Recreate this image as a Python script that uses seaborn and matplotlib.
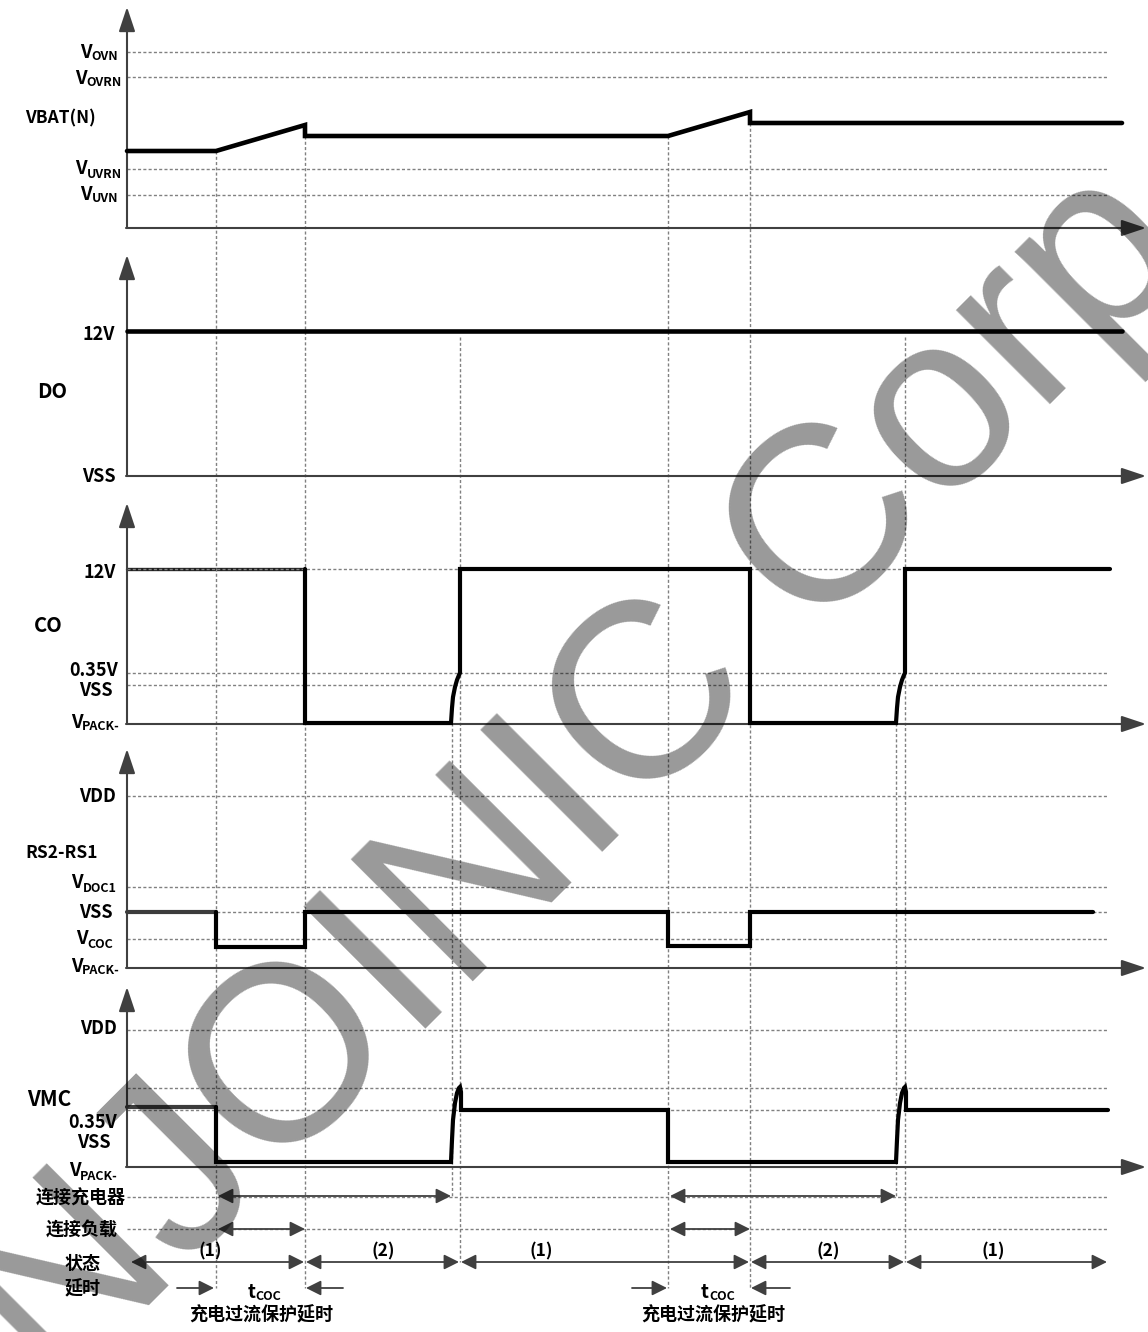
import matplotlib
matplotlib.use('Agg')
import matplotlib.pyplot as plt
import seaborn as sns

# ---------------- data (time axis = horizontal position, levels = vertical) --------------
AXIS_X0 = 127
# VBAT(N)
vbat_t = [127, 216, 305, 305, 668, 750, 750, 1122]
vbat_v = [151, 151, 125, 136, 136, 112, 123, 123]
# DO
do_t = [127, 1122]
do_v = [331, 331]
# CO
co0_t = [127, 305]
co0_v = [569, 569]
co_t = [305, 305, 451, 452, 453, 455, 457, 459, 460, 460, 750, 750,
        896, 897, 898, 900, 902, 904, 905, 905, 1110]
co_v = [569, 723, 723, 708, 697, 687, 680, 675, 673, 569, 569, 723,
        723, 708, 697, 687, 680, 675, 673, 569, 569]
# RS2-RS1
rs0_t = [127, 216]
rs0_v = [912, 912]
rs_t = [216, 216, 305, 305, 668, 668, 750, 750, 1093]
rs_v = [912, 947, 947, 912, 912, 946, 946, 912, 912]
# VMC
vmc0_t = [127, 216]
vmc0_v = [1107, 1107]
vmc_t = [216, 216, 451, 452, 453, 455, 457, 459, 460, 461, 461, 668, 668,
         896, 897, 898, 900, 902, 904, 905, 906, 906, 1108]
vmc_v = [1107, 1162, 1162, 1140, 1120, 1103, 1093, 1088, 1087, 1092, 1110, 1110, 1162,
         1162, 1140, 1120, 1103, 1093, 1088, 1087, 1092, 1110, 1110]

# panel axes (arrow tip, baseline)
panel_tip = [7, 255, 503, 749, 987]
panel_base = [228, 476, 724, 968, 1167]

# dotted reference levels
grid_levels = [52, 77, 169, 195, 569, 673, 685, 796, 887, 912, 939,
               1030, 1088, 1110, 1197, 1229]
# dotted event markers: x, top, bottom
vgrid_x = [216, 305, 452, 460, 668, 750, 896, 905]
vgrid_top = [151, 136, 723, 337, 136, 123, 723, 337]
vgrid_bot = [1288, 1288, 1197, 1262, 1288, 1288, 1197, 1262]

# labels
plain_labels = [
    ('VBAT(N)', 25, 118, 'left', 12.5),
    ('12V', 115, 334, 'right', 13),
    ('DO', 37, 392, 'left', 14.5),
    ('VSS', 116, 476, 'right', 13),
    ('12V', 116, 572, 'right', 13),
    ('CO', 34, 625, 'left', 14.5),
    ('0.35V', 118, 671, 'right', 13),
    ('VSS', 113, 691, 'right', 13),
    ('VDD', 116, 797, 'right', 13),
    ('RS2-RS1', 25, 853, 'left', 12.5),
    ('VSS', 113, 913, 'right', 13),
    ('VDD', 117, 1029, 'right', 13),
    ('VMC', 27, 1099, 'left', 15),
    ('0.35V', 117, 1123, 'right', 13),
    ('VSS', 111, 1142, 'right', 13),
]
sub_labels = [
    (118, 52, 'V', 'OVN'), (122, 78, 'V', 'OVRN'), (122, 169, 'V', 'UVRN'),
    (118, 194, 'V', 'UVN'), (120, 722, 'V', 'PACK-'), (117, 883, 'V', 'DOC1'),
    (113, 939, 'V', 'COC'), (120, 966, 'V', 'PACK-'), (118, 1171, 'V', 'PACK-'),
]
cn_labels = [
    ('连接充电器', 126, 1198, 'right'), ('连接负载', 118, 1230, 'right'),
    ('状态', 83, 1263, 'center'), ('延时', 83, 1289, 'center'),
    ('充电过流保护延时', 261, 1315, 'center'), ('充电过流保护延时', 713, 1315, 'center'),
]
charger_spans = [(216, 451), (668, 896)]
load_spans = [(216, 305), (668, 750)]
state_spans = [(130, 305), (305, 460), (460, 750), (750, 905), (905, 1108)]
state_names = ['(1)', '(2)', '(1)', '(2)', '(1)']
state_label_x = [210, 383, 541, 828, 993]
delay_arrows = [(177, 214), (343, 306), (632, 667), (790, 751)]
tcoc_x = [248, 701]

# ---------------- drawing ----------------
sns.set_theme(style='white')
FONT = ['Noto Sans CJK SC', 'DejaVu Sans']
plt.rcParams['font.family'] = FONT

fig = plt.figure(figsize=(11.48, 13.32), dpi=100)
ax = fig.add_axes([0, 0, 1, 1])
ax.set_xlim(0, 1148)
ax.set_ylim(1332, 0)
ax.axis('off')

GRID = '#808080'
AX = '#404040'
dots = (0, (2.2, 1.6))

ax.hlines(grid_levels, AXIS_X0, 1107, colors=GRID, linestyles=[dots], linewidth=1.0, zorder=2)
ax.vlines(vgrid_x, vgrid_top, vgrid_bot, colors=GRID, linestyles=[dots], linewidth=1.0, zorder=2)

# axes with arrows
for tip, base in zip(panel_tip, panel_base):
    ax.annotate('', xy=(AXIS_X0, tip), xytext=(AXIS_X0, base),
                arrowprops=dict(arrowstyle='-|>,head_length=0.75,head_width=0.25',
                                mutation_scale=20, color=AX, lw=1.5, shrinkA=0, shrinkB=0),
                zorder=3)
    ax.annotate('', xy=(1146, base), xytext=(AXIS_X0 - 1, base),
                arrowprops=dict(arrowstyle='-|>,head_length=0.75,head_width=0.25',
                                mutation_scale=20, color=AX, lw=1.5, shrinkA=0, shrinkB=0),
                zorder=3)

lkw = dict(sort=False, estimator=None, ax=ax, legend=False)
sns.lineplot(x=vbat_t, y=vbat_v, color='black', linewidth=3.3, zorder=5,
             solid_joinstyle='miter', solid_capstyle='round', **lkw)
sns.lineplot(x=do_t, y=do_v, color='black', linewidth=3.3, zorder=5,
             solid_capstyle='round', **lkw)
sns.lineplot(x=co0_t, y=co0_v, color='#202020', linewidth=2.4, zorder=1.5,
             solid_capstyle='round', **lkw)
sns.lineplot(x=co_t, y=co_v, color='black', linewidth=3.0, zorder=5,
             solid_joinstyle='miter', solid_capstyle='round', **lkw)
sns.lineplot(x=rs0_t, y=rs0_v, color='#3c3c3c', linewidth=3.0, zorder=5,
             solid_capstyle='round', **lkw)
sns.lineplot(x=rs_t, y=rs_v, color='black', linewidth=3.0, zorder=5,
             solid_joinstyle='miter', solid_capstyle='round', **lkw)
sns.lineplot(x=vmc0_t, y=vmc0_v, color='#3c3c3c', linewidth=3.0, zorder=5,
             solid_capstyle='round', **lkw)
sns.lineplot(x=vmc_t, y=vmc_v, color='black', linewidth=3.0, zorder=5,
             solid_joinstyle='miter', solid_capstyle='round', **lkw)

# labels
for txt, x, y, ha, fs in plain_labels:
    ax.text(x, y, txt, ha=ha, va='center', fontsize=fs, fontweight='bold',
            family=FONT, color='black', zorder=6)

fig.canvas.draw()
renderer = fig.canvas.get_renderer()
for xr, y, main, sub in sub_labels:
    t2 = ax.text(xr, y + 5, sub, ha='right', va='center', fontsize=9,
                 fontweight='bold', family=FONT, color='black', zorder=6)
    w = t2.get_window_extent(renderer).width
    ax.text(xr - w, y, main, ha='right', va='center', fontsize=13.5,
            fontweight='bold', family=FONT, color='black', zorder=6)
for xl in tcoc_x:
    t1 = ax.text(xl, 1292, 't', ha='left', va='center', fontsize=13.5,
                 fontweight='bold', family=FONT, color='black', zorder=6)
    w = t1.get_window_extent(renderer).width
    ax.text(xl + w, 1297, 'COC', ha='left', va='center', fontsize=9,
            fontweight='bold', family=FONT, color='black', zorder=6)

for txt, x, y, ha in cn_labels:
    ax.text(x, y, txt, ha=ha, va='center', fontsize=13, fontweight='bold',
            family=FONT, color='black', zorder=6)

# annotation arrows
dbl = dict(arrowstyle='<|-|>,head_length=0.6,head_width=0.3', mutation_scale=15,
           color=AX, lw=1.3, shrinkA=0, shrinkB=0)
one = dict(arrowstyle='-|>,head_length=0.6,head_width=0.3', mutation_scale=15,
           color=AX, lw=1.3, shrinkA=0, shrinkB=0)
for a, b in charger_spans:
    ax.annotate('', xy=(b, 1196), xytext=(a + 2, 1196), arrowprops=dbl, zorder=4)
for a, b in load_spans:
    ax.annotate('', xy=(b, 1229), xytext=(a + 2, 1229), arrowprops=dbl, zorder=4)
for (a, b) in state_spans:
    ax.annotate('', xy=(b - 1, 1262), xytext=(a + 1, 1262), arrowprops=dbl, zorder=4)
for name, x in zip(state_names, state_label_x):
    ax.text(x, 1251, name, ha='center', va='center', fontsize=12.5, fontweight='bold',
            family=FONT, color='black', zorder=6)
for a, b in delay_arrows:
    ax.annotate('', xy=(b, 1288), xytext=(a, 1288), arrowprops=one, zorder=4)

# watermark
ax.text(626, 828, 'NJOINIC Corp', fontsize=180, family='Liberation Sans',
        fontweight='normal', color='black', alpha=0.4, rotation=45,
        rotation_mode='anchor', ha='center', va='baseline', zorder=10)

fig.savefig('out.png', dpi=100)
